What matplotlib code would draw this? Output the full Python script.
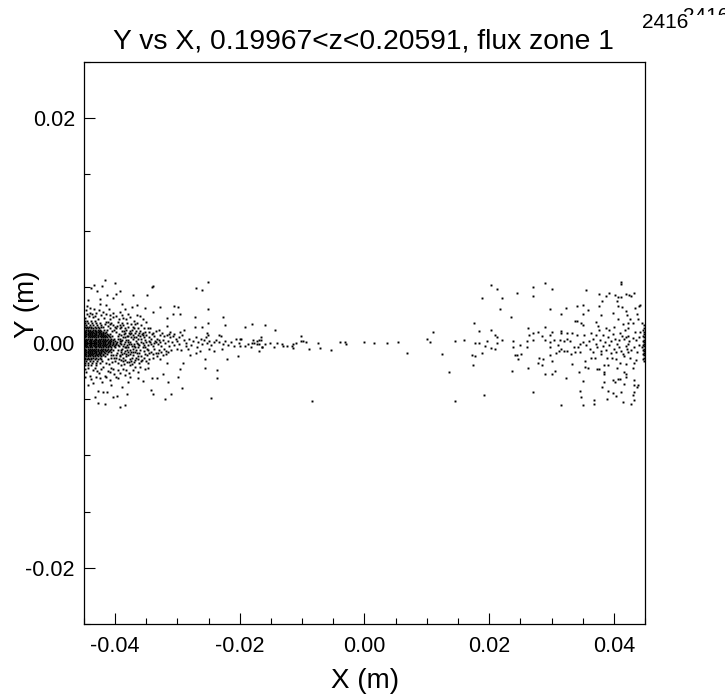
#!/usr/bin/env python

import matplotlib
matplotlib.use('Agg')
import matplotlib.pyplot as plt
from matplotlib.ticker import MultipleLocator
from matplotlib.transforms import Bbox

plt.rcParams['font.family'] = ['Liberation Sans', 'DejaVu Sans']

title = 'Y vs X, 0.19967<z<0.20591, flux zone 1'
x_ticks = [-0.04, -0.02, 0.00, 0.02, 0.04]
y_ticks = [-0.02, 0.00, 0.02]
stamp = '2416'

# all positions, in mm
# solid core at the left edge: (y, [x, ...])
core_rows = [
    (2.0, [-44.9, -44.5, -43.9, -43.2]),
    (1.8, [-44.8, -44.3, -43.7, -43.0, -42.4]),
    (1.6, [-45.0, -44.6, -44.1, -43.5, -42.9, -42.2]),
    (1.4, [-44.9, -44.5, -44.2, -43.8, -43.3, -42.8, -42.3]),
    (1.3, [-44.7, -44.3, -43.9, -43.5, -43.1, -42.6]),
    (1.2, [-45.0, -44.7, -44.3, -44.0, -43.6, -43.2, -42.8, -42.4, -41.8]),
    (1.1, [-44.8, -44.4, -44.1, -43.7, -43.3, -43.0, -42.6, -42.2]),
    (1.0, [-44.9, -44.6, -44.2, -43.9, -43.5, -43.1, -42.8, -42.4, -42.0, -41.4]),
    (0.9, [-44.8, -44.4, -44.1, -43.7, -43.4, -43.0, -42.6, -42.3, -41.9, -41.6]),
    (0.8, [-45.0, -44.7, -44.4, -44.0, -43.7, -43.3, -43.0, -42.6, -42.2, -41.9, -41.3, -40.8]),
    (0.7, [-44.8, -44.4, -44.1, -43.7, -43.4, -43.0, -42.7, -42.3, -42.0, -41.6, -41.1]),
    (0.6, [-44.9, -44.6, -44.2, -43.9, -43.5, -43.2, -42.8, -42.5, -42.1, -41.8, -41.5, -41.0, -40.5]),
    (0.5, [-44.8, -44.4, -44.1, -43.7, -43.4, -43.0, -42.7, -42.3, -42.0, -41.7, -41.3, -40.8]),
    (0.4, [-45.0, -44.7, -44.4, -44.0, -43.7, -43.3, -43.0, -42.6, -42.3, -41.9, -41.6, -41.2, -40.7, -40.2, -39.6]),
    (0.3, [-44.8, -44.5, -44.1, -43.8, -43.4, -43.1, -42.7, -42.4, -42.0, -41.7, -41.3, -40.9, -40.4]),
    (0.2, [-44.9, -44.6, -44.2, -43.9, -43.5, -43.2, -42.8, -42.5, -42.1, -41.8, -41.4, -41.0, -40.6, -40.0, -39.3]),
    (0.1, [-44.8, -44.5, -44.1, -43.8, -43.4, -43.1, -42.7, -42.4, -42.0, -41.7, -41.2, -40.8, -40.3, -39.7]),
    (0.0, [-45.0, -44.7, -44.4, -44.0, -43.7, -43.3, -43.0, -42.6, -42.3, -41.9, -41.6, -41.2, -40.8, -40.3, -39.8, -39.2]),
    (-0.1, [-44.8, -44.5, -44.1, -43.8, -43.4, -43.1, -42.7, -42.4, -42.0, -41.7, -41.3, -40.9, -40.4, -39.9]),
    (-0.2, [-44.9, -44.6, -44.2, -43.9, -43.5, -43.2, -42.8, -42.5, -42.1, -41.8, -41.4, -41.0, -40.5, -40.1, -39.5]),
    (-0.3, [-44.8, -44.5, -44.1, -43.8, -43.4, -43.1, -42.7, -42.4, -42.0, -41.6, -41.2, -40.8, -40.2]),
    (-0.4, [-45.0, -44.7, -44.4, -44.0, -43.7, -43.3, -43.0, -42.6, -42.3, -41.9, -41.5, -41.1, -40.6, -40.0]),
    (-0.5, [-44.8, -44.4, -44.1, -43.7, -43.4, -43.0, -42.7, -42.3, -42.0, -41.6, -41.2, -40.7]),
    (-0.6, [-44.9, -44.6, -44.2, -43.9, -43.5, -43.2, -42.8, -42.5, -42.1, -41.7, -41.3, -40.9, -40.3]),
    (-0.7, [-44.8, -44.4, -44.1, -43.7, -43.4, -43.0, -42.7, -42.3, -42.0, -41.5, -41.0]),
    (-0.8, [-45.0, -44.7, -44.4, -44.0, -43.7, -43.3, -43.0, -42.6, -42.2, -41.8, -41.2, -40.6]),
    (-0.9, [-44.8, -44.4, -44.1, -43.7, -43.4, -43.0, -42.6, -42.2, -41.6]),
    (-1.0, [-44.9, -44.6, -44.2, -43.9, -43.5, -43.1, -42.8, -42.4, -41.9, -41.3]),
    (-1.1, [-44.8, -44.4, -44.1, -43.7, -43.3, -42.9, -42.5, -42.0]),
    (-1.2, [-45.0, -44.7, -44.3, -44.0, -43.6, -43.2, -42.7, -42.3, -41.7]),
    (-1.3, [-44.8, -44.4, -43.9, -43.5, -43.0, -42.5]),
    (-1.4, [-44.9, -44.5, -44.2, -43.8, -43.3, -42.8, -42.2]),
    (-1.6, [-45.0, -44.6, -44.1, -43.5, -42.9, -42.1]),
    (-1.8, [-44.8, -44.3, -43.7, -43.0, -42.4]),
    (-2.0, [-44.9, -44.4, -43.8, -43.1]),
]

left_pts = [
    (-41.6, 5.6), (-40.0, 5.3), (-43.4, 5.2), (-43.8, 4.9), (-42.1, 5.1), (-39.3, 4.6), (-39.8, 4.4),
    (-40.3, 4.0), (-41.3, 4.3), (-42.9, 4.6), (-44.3, 3.8), (-42.5, 3.9), (-42.4, 3.5), (-41.4, 3.4),
    (-44.0, 3.1), (-43.4, 3.0), (-38.4, 3.0), (-38.9, 3.5), (-37.1, 4.3), (-34.9, 4.3), (-37.3, 3.2),
    (-36.5, 3.4), (-35.2, 3.1), (-37.9, 2.6), (-38.7, 2.2), (-40.8, 2.5), (-40.3, 2.3), (-44.5, 2.6),
    (-43.0, 2.7), (-36.0, 2.4), (-34.0, 2.8), (-33.9, 5.1), (-34.1, 5.0), (-27.0, 4.9), (-26.0, 4.7),
    (-25.1, 5.4), (-25.1, 3.0), (-32.8, 3.2), (-30.6, 3.3), (-29.9, 3.2), (-29.6, 2.6), (-30.8, 2.6),
    (-31.7, 2.2), (-27.2, 2.3), (-22.7, 2.3), (-22.4, 1.6), (-18.1, 1.7), (-15.9, 1.6), (-14.4, 1.2),
    (-19.1, 1.4), (-25.1, 1.75), (-27.2, 1.4), (-26.1, 1.4), (-29.0, 1.15), (-31.7, 1.5), (-32.9, 1.2),
    (-31.2, 1.0), (-35.0, 1.9), (-34.4, 1.3), (-23.3, 0.7), (-25.3, 0.85), (-19.8, 0.4), (-20.6, 0.4),
    (-20.3, -1.15), (-22.1, -1.4), (-23.7, -2.4), (-23.7, -3.15), (-25.6, -2.25), (-25.6, -1.4),
    (-27.0, -0.9), (-28.0, -1.1), (-29.1, -1.8), (-29.6, -2.3), (-29.9, -3.0), (-29.3, -4.0),
    (-24.7, -4.9), (-31.0, -4.5), (-32.0, -5.0), (-33.9, -4.55), (-34.3, -4.2), (-31.6, -3.45),
    (-32.3, -2.75), (-34.1, -3.15), (-33.3, -3.15), (-35.5, -3.35), (-36.3, -3.15), (-34.7, -2.25),
    (-35.2, -2.35), (-31.7, -1.8), (-32.8, -1.4), (-36.3, -1.4), (-36.0, -2.1), (-37.6, -3.0),
    (-38.4, -2.85), (-38.9, -3.9), (-38.1, -4.55), (-38.4, -5.5), (-39.2, -5.7), (-39.7, -4.7),
    (-40.3, -4.8), (-41.6, -5.4), (-42.7, -5.3), (-43.2, -4.8), (-42.8, -4.25), (-41.9, -4.35),
    (-41.3, -4.35), (-44.3, -3.75), (-43.5, -3.6), (-42.1, -3.45), (-40.8, -3.3), (-39.5, -3.15),
    (-44.6, -2.6), (-44.1, -2.9), (-43.6, -2.4), (-43.1, -3.0), (-42.6, -2.7), (-42.2, -2.3),
    (-41.7, -2.9), (-41.2, -2.5), (-40.7, -2.2), (-40.2, -2.8), (-39.6, -2.4), (-39.1, -2.0),
    (-44.8, 2.2), (-44.2, 2.4), (-43.5, 2.3), (-42.8, 2.1), (-42.3, 2.5), (-41.8, 2.2), (-41.2, 1.9),
    (-44.5, 3.3), (-38.0, -3.5), (-37.2, -2.4), (-40.6, -3.7), (-43.9, -3.2), (-41.0, 3.0), (-39.2, 2.8),
    (-44.7, 2.9), (-44.1, 2.7), (-43.7, 2.6), (-43.2, 2.4), (-42.6, 2.9), (-42.0, 2.8), (-41.5, 2.6),
    (-40.9, 2.1), (-40.4, 2.7), (-39.8, 2.4), (-39.4, 2.1), (-38.9, 2.5), (-38.3, 2.1), (-37.6, 2.3),
    (-37.0, 2.0), (-36.5, 2.5), (-35.6, 2.1), (-44.9, -2.3), (-44.3, -2.2), (-44.8, -3.0), (-43.3, -2.2),
    (-42.9, -2.5), (-42.4, -3.1), (-41.9, -2.1), (-41.4, -3.0), (-40.9, -2.6), (-40.4, -2.3), (-39.9, -3.0),
    (-39.3, -2.7), (-38.8, -2.3), (-38.3, -2.4), (-37.8, -2.7), (-37.3, -1.9), (-36.8, -2.1), (-36.4, -2.6),
]

band_pts = [
    (-41.7, 1.7), (-41.1, 1.5), (-40.6, 1.8), (-40.1, 1.4), (-39.6, 1.9), (-39.2, 1.3), (-38.7, 1.6),
    (-40.5, 1.1), (-39.9, 1.0), (-39.4, 0.8), (-38.9, 1.1), (-38.4, 0.9), (-38.0, 1.4), (-37.5, 1.7),
    (-38.8, 0.5), (-38.3, 0.3), (-37.9, 0.6), (-37.4, 0.9), (-36.9, 1.3), (-36.5, 1.8), (-36.0, 1.1),
    (-38.6, -0.1), (-38.1, -0.2), (-37.6, 0.1), (-37.2, 0.4), (-36.7, 0.2), (-36.3, 0.7), (-35.8, 0.4),
    (-38.9, -0.5), (-38.4, -0.7), (-37.9, -0.4), (-37.5, -0.8), (-37.0, -0.3), (-36.6, -0.6), (-36.1, -0.2),
    (-39.7, -0.9), (-39.2, -1.1), (-38.7, -1.3), (-38.2, -1.0), (-37.7, -1.4), (-37.2, -1.1), (-36.7, -1.3),
    (-40.6, -1.3), (-40.1, -1.6), (-39.6, -1.8), (-39.1, -1.5), (-38.6, -1.9), (-38.1, -1.7), (-37.6, -2.0),
    (-41.5, -1.8), (-41.0, -1.9), (-40.5, -1.7), (-36.2, -0.9), (-35.8, -1.2), (-35.3, -0.7), (-34.9, -1.1),
    (-35.6, 0.0), (-35.2, 0.3), (-34.8, -0.2), (-34.4, 0.1), (-34.0, -0.3), (-33.6, 0.2), (-33.2, -0.1),
    (-35.5, 0.9), (-35.0, 0.7), (-34.6, 0.5), (-34.1, 0.8), (-33.7, 0.6), (-33.3, 0.4), (-32.8, 0.7),
    (-34.7, -0.6), (-34.2, -0.8), (-33.8, -0.5), (-33.4, -0.9), (-33.0, -0.6), (-32.6, -0.3), (-32.2, -0.5),
    (-32.8, 0.1), (-32.4, 0.3), (-32.0, 0.0), (-31.6, 0.2), (-31.9, -0.7), (-31.4, -0.3), (-31.0, -0.6),
    (-34.5, 1.0), (-33.5, 1.1), (-30.9, 0.1), (-30.5, -0.2), (-30.1, -0.5), (-29.8, -0.1), (-30.3, 0.4),
    (-29.8, 0.5), (-29.3, 0.7), (-29.0, 0.3), (-28.6, 0.0), (-28.2, 0.4), (-28.7, -0.3), (-28.3, -0.5),
    (-27.9, -0.2), (-27.5, 0.2), (-27.1, 0.5), (-26.7, 0.1), (-26.3, 0.4), (-26.0, -0.1), (-25.7, 0.3),
    (-25.4, 0.5), (-25.1, 0.7), (-24.9, 0.2), (-25.3, 0.0), (-24.6, -0.2), (-24.2, 0.1), (-23.8, 0.3),
    (-23.4, 0.1), (-23.0, 0.6), (-22.7, -0.1), (-22.3, 0.2), (-21.9, -0.2), (-21.4, 0.1), (-21.0, -0.3),
    (-29.4, -0.6), (-26.9, -0.4), (-26.4, -0.7), (-25.0, -0.5), (-24.1, -0.7), (-22.9, -0.5), (-29.6, 1.0),
    (-20.2, 0.0), (-19.9, 0.4), (-20.0, -0.25), (-19.1, -0.25), (-18.7, -0.1), (-18.2, -0.35), (-18.1, 0.0),
    (-17.9, 0.25), (-17.8, 0.0), (-17.3, 0.2), (-17.3, -0.05), (-17.0, 0.3), (-16.6, 0.3), (-16.6, 0.55),
    (-17.0, -0.1), (-16.5, -0.35), (-16.4, -0.35), (-17.0, -0.7), (-16.0, -0.1), (-15.2, 0.0), (-14.5, -0.35),
    (-14.1, 0.0), (-13.3, -0.1), (-13.0, -0.25), (-12.5, -0.25), (-11.6, -0.25), (-11.4, -0.1), (-11.4, -0.45),
    (-11.0, 0.0), (-10.2, 0.6), (-10.2, 0.2), (-9.9, 0.2), (-9.4, 0.1), (-8.9, -0.5), (-7.4, 0.0),
    (-7.2, -0.45), (-5.4, -0.65), (-8.5, -5.2), (-3.9, 0.1), (-3.2, 0.1), (-2.9, -0.1), (-0.1, 0.1),
    (1.6, 0.0), (3.6, 0.0), (5.3, 0.1), (6.8, -0.85), (10.1, 0.4), (10.5, 0.1), (11.0, 0.95),
    (12.4, -0.95), (13.6, -2.6), (14.5, -5.2), (14.5, 0.2), (16.0, 0.3),
    # second pass over the dense part of the band
    (-41.3, 1.2), (-40.9, 1.7), (-40.3, 1.6), (-39.8, 1.3), (-39.3, 1.6), (-38.9, 1.8), (-38.5, 1.3),
    (-38.1, 1.8), (-37.7, 1.1), (-37.2, 1.4), (-36.8, 1.7), (-36.3, 1.3), (-35.8, 1.6), (-35.4, 1.3),
    (-39.6, 0.6), (-39.1, 0.7), (-38.6, 0.8), (-38.1, 0.6), (-37.7, 0.8), (-37.2, 0.7), (-36.8, 0.9),
    (-36.4, 0.4), (-36.0, 0.6), (-35.6, 0.7), (-35.2, 1.0), (-34.8, 1.3), (-34.3, 0.4), (-33.9, 0.9),
    (-39.0, 0.2), (-38.5, 0.1), (-38.0, 0.1), (-37.4, -0.1), (-36.9, -0.1), (-36.5, 0.0), (-35.9, 0.1),
    (-35.4, -0.2), (-35.0, 0.1), (-34.6, 0.2), (-34.2, -0.1), (-33.8, 0.0), (-33.4, 0.1), (-33.0, 0.3),
    (-39.4, -0.3), (-39.0, -0.8), (-38.5, -0.4), (-38.1, -0.6), (-37.7, -0.6), (-37.2, -0.5), (-36.8, -0.8),
    (-36.4, -0.4), (-36.0, -0.6), (-35.6, -0.4), (-35.2, -0.4), (-34.9, -0.5), (-34.5, -0.9), (-34.0, -1.0),
    (-40.3, -1.1), (-39.9, -1.3), (-39.4, -1.4), (-38.9, -1.0), (-38.4, -1.5), (-37.9, -1.1), (-37.4, -1.6),
    (-36.9, -1.7), (-36.4, -1.2), (-35.9, -1.6), (-35.4, -1.3), (-35.0, -1.6), (-34.5, -1.4), (-33.9, -1.3),
    (-33.3, -1.2), (-33.1, -0.9), (-32.6, -0.8), (-32.3, -1.1), (-31.9, -1.0), (-31.5, -0.8), (-31.2, 0.5),
    (-32.5, 0.9), (-32.1, 0.6), (-31.7, 0.7), (-31.3, 0.8), (-30.8, 0.6), (-30.5, 0.8), (-30.0, 0.2),
    # third pass, nearest the core
    (-41.9, 1.4), (-41.4, 1.9), (-40.8, 1.3), (-40.2, 1.2), (-39.7, 1.5), (-39.0, 1.4), (-38.6, 1.1),
    (-38.2, 1.2), (-37.8, 0.9), (-37.3, 1.2), (-36.7, 1.1), (-36.2, 0.9), (-35.7, 0.8), (-35.3, 0.5),
    (-39.3, 0.4), (-38.9, 0.3), (-38.4, 0.5), (-37.9, 0.3), (-37.5, 0.5), (-37.0, 0.5), (-36.6, 0.5),
    (-39.1, -0.1), (-38.7, -0.3), (-38.2, -0.4), (-37.8, -0.1), (-37.3, -0.3), (-36.8, -0.4), (-36.3, -0.1),
    (-39.5, -0.6), (-39.0, -0.6), (-38.6, -0.9), (-38.0, -0.8), (-37.6, -1.0), (-37.1, -0.8), (-36.5, -0.9),
    (-41.1, -1.4), (-40.7, -1.1), (-40.2, -1.3), (-39.8, -1.1), (-39.3, -1.2), (-38.8, -1.6), (-38.3, -1.2),
    (-37.8, -1.7), (-37.3, -1.3), (-36.8, -1.5), (-36.2, -1.8), (-35.7, -1.5), (-35.2, -1.0), (-34.7, -1.8),
]

right_pts = [
    (20.3, 5.2), (21.2, 4.8), (18.8, 4.0), (22.0, 4.0), (24.5, 4.45), (27.0, 5.0), (27.0, 4.15), (29.0, 5.3),
    (30.1, 4.8), (21.8, 3.0), (23.5, 2.35), (29.7, 3.0), (35.6, 4.7), (37.7, 4.35), (39.3, 4.45), (38.7, 4.15),
    (38.1, 3.75), (37.6, 3.25), (34.1, 3.3), (35.1, 3.4), (35.8, 2.9), (35.1, 2.55), (32.4, 3.1), (31.6, 2.55),
    (33.7, 2.0), (34.1, 2.0), (34.7, 1.8), (35.1, 1.6), (37.2, 1.9), (38.0, 2.45), (17.5, 1.8), (18.4, 1.05),
    (20.3, 1.15), (20.9, 0.7), (21.2, 0.5), (22.0, 0.3), (19.7, 0.2), (19.3, -0.25), (20.3, -0.45), (20.9, -0.55),
    (21.2, 0.0), (17.8, 0.0), (18.4, 0.0), (18.8, -0.85), (17.3, -1.05), (17.8, -1.2), (17.4, -1.95),
    (23.7, -2.5), (19.2, -4.65), (27.0, -4.4), (31.6, -5.5), (35.1, -5.5), (36.8, -5.1), (36.8, -5.4),
    (34.7, -4.8), (34.5, -4.3), (38.9, -4.95), (41.4, -5.25), (42.8, -5.4), (43.3, -5.1), (43.0, -4.65),
    (43.2, -4.35), (43.7, -3.95), (43.8, -3.75), (43.3, -3.75), (43.3, -3.3), (41.2, -4.35), (40.4, -4.7),
    (39.9, -4.45), (39.1, -4.25), (38.1, -3.95), (38.5, -3.45), (39.9, -3.3), (40.2, -3.45), (40.6, -3.2),
    (41.0, -3.2), (41.6, -3.65), (35.1, -3.35), (32.3, -3.1), (30.1, -2.8), (29.0, -2.8), (30.5, -2.5),
    (26.2, -2.25), (27.8, -1.75), (28.4, -2.0), (28.0, -1.35), (28.6, -1.45), (30.1, -1.6), (33.3, -1.85),
    (35.3, -1.6), (35.3, -2.15), (35.8, -2.25), (34.4, -2.6), (37.3, -2.35), (37.7, -2.35), (38.4, -1.95),
    (38.5, -2.55), (38.5, -2.8), (39.1, -1.95), (41.7, -2.55), (42.0, -2.8), (42.0, -3.0), (42.0, -1.9),
    (43.0, -2.25), (43.3, -1.8), (40.5, -2.25), (41.0, -1.75), (39.7, -1.3), (37.0, -1.3), (36.3, -1.3),
    (24.4, -1.05), (25.1, -1.0), (24.7, -1.45), (24.2, -1.05), (23.8, -0.35), (23.8, 0.2), (24.9, -0.15),
    (26.1, -0.35), (26.1, 0.2), (26.4, 0.7), (26.3, 1.35), (27.1, 0.3), (27.1, 0.85), (27.9, 0.95), (28.9, 1.4),
    (29.0, 0.3), (30.1, 0.95), (29.7, 0.7), (30.4, 0.3), (29.7, 0.05), (29.7, -0.4), (29.7, -1.05), (30.7, -0.9),
    (31.2, -0.7), (31.6, -0.55), (32.0, -0.7), (32.5, -0.7), (33.2, -1.0), (33.7, -0.8), (34.5, -0.8),
    (33.6, -0.35), (34.3, -0.35), (32.0, 0.2), (32.5, 0.4), (31.6, 1.05), (31.6, 0.85), (32.5, 0.85), (33.3, 0.85),
    (34.1, 0.7), (35.2, 0.7), (36.3, 0.85), (37.1, 0.7), (37.7, 1.15), (38.7, 1.3), (39.2, 1.15), (41.0, 0.85),
    (41.8, 1.15), (42.3, 1.3), (43.4, 1.0), (44.2, 1.0), (44.5, 1.75), (43.0, 1.75), (42.3, 1.75), (41.5, 1.7),
    (40.6, 2.15), (39.9, 2.65), (42.0, 2.85), (42.1, 2.5), (42.6, 2.15), (43.7, 2.6), (43.8, 2.15), (43.4, 3.1),
    (44.2, 3.4), (44.0, 3.3), (40.6, 3.25), (41.3, 3.2), (40.5, 3.7), (40.6, 4.05), (40.2, 4.3), (41.2, 4.05),
    (42.0, 4.35), (42.4, 4.3), (42.8, 4.15), (43.3, 4.45), (41.1, 5.25), (41.2, 5.45),
    (36.0, 0.2), (36.6, 0.4), (37.2, -0.1), (37.8, 0.3), (38.2, 0.7), (38.6, 0.1), (39.0, 0.5), (39.5, 0.2),
    (39.8, 0.8), (40.2, 0.4), (40.5, -0.1), (40.9, 0.3), (41.3, 0.6), (41.6, 0.35), (41.9, 0.5), (42.2, 0.65),
    (42.5, 0.2), (43.0, 0.45), (43.5, 0.3), (44.0, 0.55), (35.5, -0.2), (36.1, -0.5), (36.7, -0.8), (37.3, -0.4),
    (37.9, -0.7), (38.3, -0.3), (38.8, -0.6), (39.2, -0.2), (39.6, -0.9), (40.0, -0.5), (40.4, -0.8), (40.8, -0.35),
    (41.2, -0.7), (41.5, -1.0), (41.9, -0.3), (42.1, -0.5), (42.2, -0.8), (42.3, -0.1), (42.7, -0.6), (43.2, -0.4),
    (43.7, -0.8), (44.1, -0.2), (38.0, -1.0), (38.9, -1.3), (40.3, -1.4), (41.7, -1.2), (42.6, -1.3), (43.6, -1.5),
    (35.0, 0.1), (34.6, -0.1), (33.0, 0.2), (31.3, 0.3), (31.0, -0.2), (28.5, 0.6), (37.5, 1.5), (40.0, 1.4),
    (44.8, 1.6), (44.9, 1.3), (44.8, 1.0), (44.9, 0.8), (44.8, 0.5), (44.9, 0.3), (44.8, 0.1), (44.9, -0.1),
    (44.8, -0.3), (44.9, -0.5), (44.8, -0.7), (44.9, -0.9), (44.8, -1.1), (44.9, -1.3), (44.8, -1.6), (44.5, -0.4),
    (44.7, 1.15), (44.7, 0.65), (44.7, 0.2), (44.7, -0.2), (44.7, -0.6), (44.7, -1.0), (44.7, -1.4),
]


def main():
    xs = []
    ys = []
    for y, row in core_rows:
        xs += row
        ys += [y] * len(row)
    for pts in (left_pts, band_pts, right_pts):
        xs += [p[0] for p in pts]
        ys += [p[1] for p in pts]
    xs = [v / 1000.0 for v in xs]
    ys = [v / 1000.0 for v in ys]

    fig = plt.figure(figsize=(7.25, 6.97), dpi=100)
    ax = fig.add_axes([84 / 725, 73 / 697, 561 / 725, 562 / 697])
    ax.plot(xs, ys, linestyle='none', marker='s', markersize=1.4,
            markeredgewidth=0, color='black')

    ax.set_xlim(-0.045, 0.045)
    ax.set_ylim(-0.025, 0.025)
    ax.set_xticks(x_ticks)
    ax.set_yticks(y_ticks)
    ax.xaxis.set_minor_locator(MultipleLocator(0.005))
    ax.yaxis.set_minor_locator(MultipleLocator(0.005))
    ax.set_xticklabels(['%.2f' % v for v in x_ticks])
    ax.set_yticklabels(['%.2f' % v for v in y_ticks])
    ax.tick_params(which='major', direction='in', length=8, width=0.8, labelsize=15.5)
    ax.tick_params(axis='x', which='major', pad=9)
    ax.tick_params(axis='y', which='major', pad=6.5)
    ax.tick_params(which='minor', direction='in', length=4, width=0.8)
    for spine in ax.spines.values():
        spine.set_linewidth(0.9)

    fig.text(363 / 725, 1 - 41 / 697, title, fontsize=20.3, ha='center', va='center')
    fig.text(365 / 725, 1 - 681 / 697, 'X (m)', fontsize=20, ha='center', va='center')
    fig.text(27 / 725, 1 - 304 / 697, 'Y (m)', fontsize=20, rotation=90, ha='center', va='center')

    fig.text(642 / 725, 1 - 22 / 697, stamp, fontsize=15, ha='left', va='center')
    # second stamp sits higher and is cut off under its top part
    top = fig.text(683 / 725, 1 - 16 / 697, stamp, fontsize=15, ha='left', va='center')
    top.set_clip_box(Bbox([[0, 697 - 15], [725, 697]]))
    top.set_clip_on(True)

    fig.savefig('out.png', dpi=100)
    plt.close()


if __name__ == '__main__':
    main()
